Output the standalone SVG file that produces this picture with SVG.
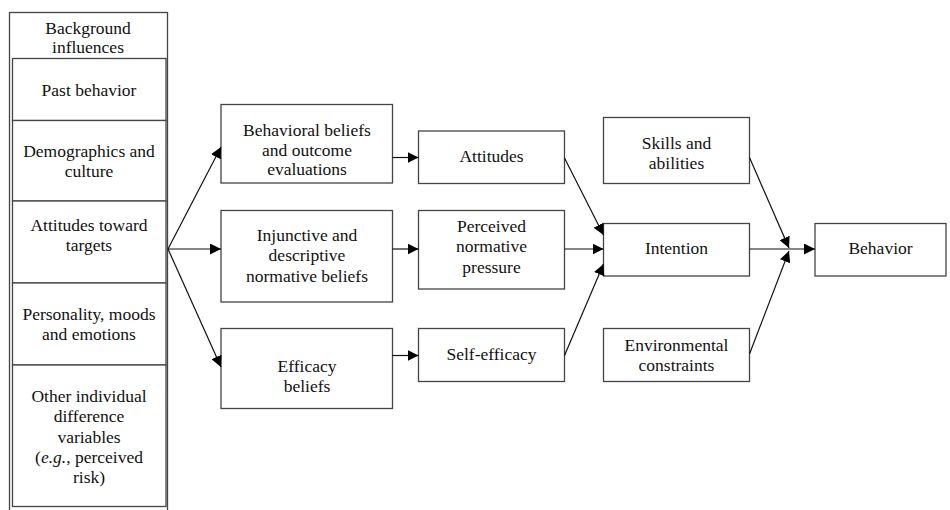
<svg xmlns="http://www.w3.org/2000/svg" width="950" height="510" viewBox="0 0 950 510">
<defs>
<marker id="ah" viewBox="0 0 10 10" refX="10" refY="5" markerUnits="userSpaceOnUse" markerWidth="11" markerHeight="11" orient="auto">
<path d="M0,0 L10,5 L0,10 z" fill="#000"/>
</marker>
<style>
.box{fill:#fff;stroke:#444;stroke-width:1.3}
.ln{fill:none;stroke:#111;stroke-width:1.2}
.arr{fill:none;stroke:#111;stroke-width:1.2;marker-end:url(#ah)}
text{font-family:"Liberation Serif","Times New Roman",serif;font-size:17.5px;fill:#111;text-anchor:middle}
</style>
</defs>
<rect width="950" height="510" fill="#fff"/>
<g id="background">
<rect class="box" x="9.5" y="12.5" width="158" height="505"/>
<text x="88" y="34">Background</text>
<text x="88" y="53">influences</text>
</g>
<g id="past-behavior">
<rect class="box" x="12.5" y="58.5" width="153.5" height="62"/>
<text x="89" y="96">Past behavior</text>
</g>
<g id="demographics">
<rect class="box" x="12.5" y="120.5" width="153.5" height="80.5"/>
<text x="89" y="157">Demographics and</text>
<text x="89" y="176.5">culture</text>
</g>
<g id="attitudes-targets">
<rect class="box" x="12.5" y="201" width="153.5" height="82"/>
<text x="89" y="231">Attitudes toward</text>
<text x="89" y="251">targets</text>
</g>
<g id="personality">
<rect class="box" x="12.5" y="283" width="153.5" height="82"/>
<text x="89" y="320">Personality, moods</text>
<text x="89" y="340">and emotions</text>
</g>
<g id="other">
<rect class="box" x="12.5" y="365" width="153.5" height="141.5"/>
<text x="89" y="402">Other individual</text>
<text x="89" y="422">difference</text>
<text x="89" y="442.5">variables</text>
<text x="89" y="463">(<tspan font-style="italic">e.g.</tspan>, perceived</text>
<text x="89" y="483">risk)</text>
</g>
<g id="behavioral-beliefs">
<rect class="box" x="221" y="104.5" width="171.5" height="78.5"/>
<text x="307" y="135.5">Behavioral beliefs</text>
<text x="307" y="155.5">and outcome</text>
<text x="307" y="175">evaluations</text>
</g>
<g id="normative-beliefs">
<rect class="box" x="221" y="210.5" width="171.5" height="91.5"/>
<text x="307" y="241">Injunctive and</text>
<text x="307" y="261">descriptive</text>
<text x="307" y="281.5">normative beliefs</text>
</g>
<g id="efficacy-beliefs">
<rect class="box" x="221" y="328.5" width="171.5" height="80"/>
<text x="307" y="371.5">Efficacy</text>
<text x="307" y="391.5">beliefs</text>
</g>
<g id="attitudes">
<rect class="box" x="418.5" y="131" width="146" height="52.5"/>
<text x="491.5" y="162">Attitudes</text>
</g>
<g id="perceived-norm">
<rect class="box" x="418.5" y="210.5" width="146" height="78.5"/>
<text x="491.5" y="231.5">Perceived</text>
<text x="491.5" y="252">normative</text>
<text x="491.5" y="272.5">pressure</text>
</g>
<g id="self-efficacy">
<rect class="box" x="418.5" y="328.5" width="146" height="53"/>
<text x="491.5" y="360">Self-efficacy</text>
</g>
<g id="skills">
<rect class="box" x="603.5" y="117.5" width="146" height="66"/>
<text x="676.5" y="149">Skills and</text>
<text x="676.5" y="169">abilities</text>
</g>
<g id="intention">
<rect class="box" x="603.5" y="223.5" width="146" height="52.5"/>
<text x="676.5" y="254">Intention</text>
</g>
<g id="environment">
<rect class="box" x="603.5" y="328.5" width="146" height="53"/>
<text x="676.5" y="351">Environmental</text>
<text x="676.5" y="371">constraints</text>
</g>
<g id="behavior">
<rect class="box" x="815" y="223.5" width="131" height="52.5"/>
<text x="880.5" y="254">Behavior</text>
</g>
<g id="connectors">
<line class="arr" x1="168" y1="249" x2="221" y2="147"/>
<line class="arr" x1="168" y1="249" x2="221" y2="249"/>
<line class="arr" x1="168" y1="249" x2="221" y2="367"/>
<line class="arr" x1="392.5" y1="157.5" x2="418.5" y2="157.5"/>
<line class="arr" x1="392.5" y1="249" x2="418.5" y2="249"/>
<line class="arr" x1="392.5" y1="355.5" x2="418.5" y2="355.5"/>
<line class="arr" x1="564.5" y1="158" x2="603.5" y2="235"/>
<line class="arr" x1="564.5" y1="249" x2="603.5" y2="249"/>
<line class="arr" x1="564.5" y1="355.5" x2="603.5" y2="264"/>
<line class="arr" x1="749.5" y1="249" x2="815" y2="249"/>
<line class="arr" x1="749.5" y1="157.5" x2="789" y2="248"/>
<line class="arr" x1="749.5" y1="354" x2="789" y2="251"/>
</g>
</svg>
